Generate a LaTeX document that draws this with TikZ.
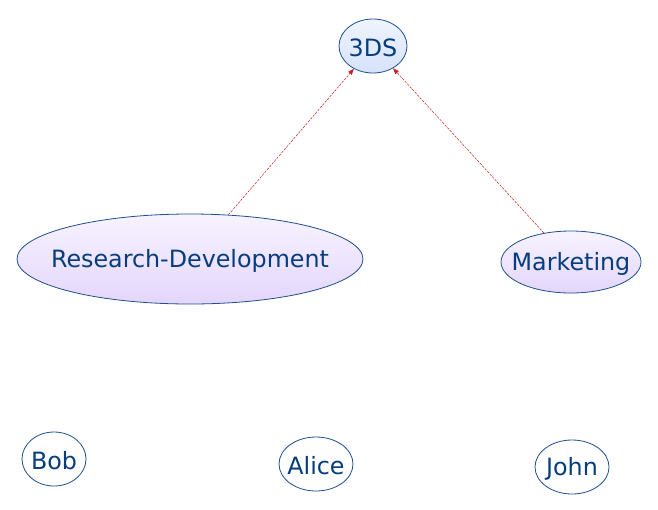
\documentclass[tikz,border=0pt]{standalone}
\usepackage{fontspec}
\setmainfont{DejaVu Sans}
\usetikzlibrary{shapes.geometric, arrows.meta}

\definecolor{txtblue}{HTML}{063D7E}
\definecolor{lineblue}{HTML}{1E4F8E}
\definecolor{linkred}{HTML}{C8201E}
\definecolor{blueTop}{HTML}{F0F4FF}
\definecolor{blueBot}{HTML}{D6E2FB}
\definecolor{lilacTop}{HTML}{F7F3FF}
\definecolor{lilacBot}{HTML}{E4D6FB}

\begin{document}
\begin{tikzpicture}[x=1pt, y=-1pt]
  \tikzstyle{every label}=[inner sep=0pt, yshift=-1.5pt, font=\fontsize{23.8}{26}\selectfont, text=txtblue]
  \tikzstyle{org}=[ellipse, draw=lineblue, line width=0.8pt, inner sep=0pt]
  \tikzstyle{topnode}=[org, top color=blueTop, bottom color=blueBot]
  \tikzstyle{dept}=[org, top color=lilacTop, bottom color=lilacBot]
  \tikzstyle{person}=[org, fill=white]
  \tikzstyle{link}=[draw=linkred, line width=0.5pt, dash pattern=on 2.5pt off 1.2pt, -{Triangle[width=4.5pt, length=6pt]}]
  \useasboundingbox (0,0) rectangle (658,509);
  \node [topnode, minimum width=68, minimum height=54, label=center:3DS] (tds) at (373,46) {};
  \node [dept, minimum width=346, minimum height=90, label=center:Research-Development] (rd) at (190,259) {};
  \node [dept, minimum width=140, minimum height=62, label=center:Marketing] (mk) at (571,262) {};
  \node [person, minimum width=64, minimum height=54, label=center:Bob] (bob) at (54,459) {};
  \node [person, minimum width=74, minimum height=54, label=center:Alice] (alice) at (316,464) {};
  \node [person, minimum width=74, minimum height=54, label=center:John] (john) at (572,467) {};
  \draw [link] (rd.49) -- (tds.230);
  \draw [link] (mk.133) -- (tds.312);
\end{tikzpicture}
\end{document}
